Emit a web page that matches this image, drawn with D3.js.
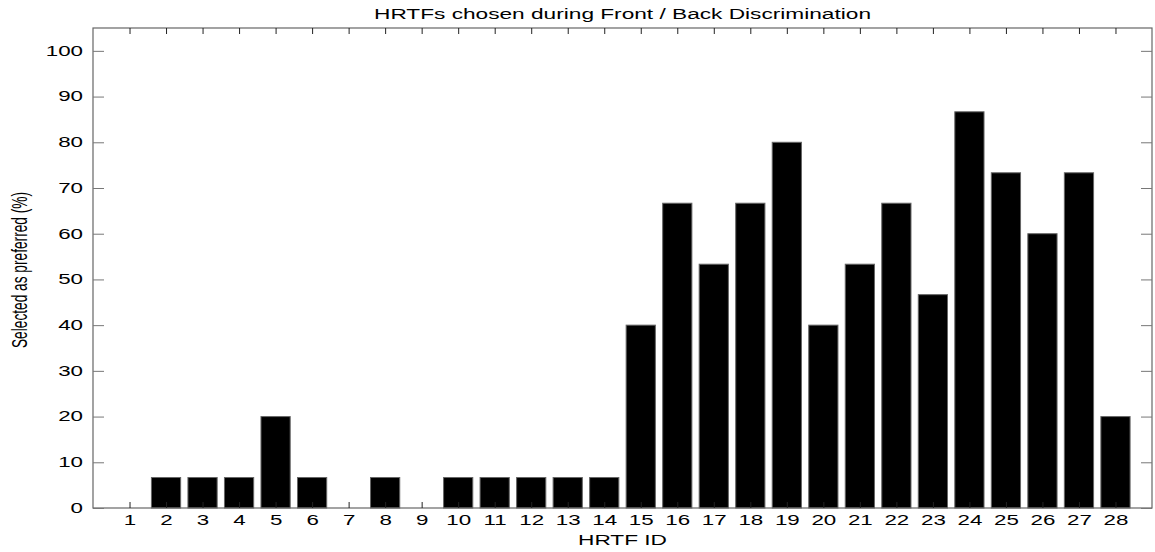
<!DOCTYPE html>
<html>
<head>
<meta charset="utf-8">
<script src="https://cdn.jsdelivr.net/npm/d3@7"></script>
<style>
  body { margin: 0; background: #fff; }
  svg { display: block; }
  text { font-family: "Liberation Sans", Arial, sans-serif; fill: #000; }
</style>
</head>
<body>
<svg id="chart" width="1155" height="552"></svg>
<script>
// HRTF identifiers 1..28 and percentage of listeners selecting each one
const hrtfIds = d3.range(1, 29);
const selectedPct = [
  0, 6.67, 6.67, 6.67, 20, 6.67, 0, 6.67, 0, 6.67,
  6.67, 6.67, 6.67, 6.67, 40, 66.67, 53.33, 66.67, 80, 40,
  53.33, 66.67, 46.67, 86.67, 73.33, 60, 73.33, 20
];
const yTicks = [0, 10, 20, 30, 40, 50, 60, 70, 80, 90, 100];

const svg = d3.select("#chart");
const plotL = 93, plotR = 1152, plotT = 28, plotB = 508;
const sx = 1.62;           // horizontal widening applied to all lettering
const fontPx = 13.8;

const x = d3.scaleLinear().domain([0, 29]).range([plotL, plotR]);
const y = d3.scaleLinear().domain([0, 105]).range([plotB, plotT]);
const barW = (x(1) - x(0)) * 0.8;
const midX = (plotL + plotR) / 2;

// bars
svg.append("g").selectAll("rect")
  .data(hrtfIds.map((id, i) => ({ id, v: selectedPct[i] })).filter(d => d.v > 0))
  .join("rect")
  .attr("x", d => x(d.id) - barW / 2)
  .attr("y", d => y(d.v))
  .attr("width", barW)
  .attr("height", d => y(0) - y(d.v))
  .attr("fill", "#000")
  .attr("stroke", "#666")
  .attr("stroke-width", 1);

// frame
svg.append("rect")
  .attr("x", plotL).attr("y", plotT)
  .attr("width", plotR - plotL).attr("height", plotB - plotT)
  .attr("fill", "none").attr("stroke", "#666").attr("stroke-width", 1.2);

// bottom axis: ticks inward, labels below
const xAxisB = d3.axisBottom(x).tickValues(hrtfIds).tickSize(-6).tickPadding(0).tickFormat(d3.format("d"));
const gxb = svg.append("g").attr("transform", `translate(0,${plotB})`).call(xAxisB);
// top axis: ticks only
const xAxisT = d3.axisTop(x).tickValues(hrtfIds).tickSize(-6).tickFormat("");
const gxt = svg.append("g").attr("transform", `translate(0,${plotT})`).call(xAxisT);
// left axis with labels
const yAxisL = d3.axisLeft(y).tickValues(yTicks).tickSize(-11).tickPadding(0).tickFormat(d3.format("d"));
const gyl = svg.append("g").attr("transform", `translate(${plotL},0)`).call(yAxisL);
// right axis ticks only
const yAxisR = d3.axisRight(y).tickValues(yTicks).tickSize(-11).tickFormat("");
const gyr = svg.append("g").attr("transform", `translate(${plotR},0)`).call(yAxisR);

[gxb, gxt, gyl, gyr].forEach(g => {
  g.select(".domain").remove();
  g.selectAll("text")
    .style("font-family", "'Liberation Sans', Arial, sans-serif")
    .style("font-size", fontPx + "px");
});
gxb.selectAll(".tick line").attr("stroke", "#222");
gxt.selectAll(".tick line").attr("stroke", "#222");
gyl.selectAll(".tick line").attr("stroke", "#777");
gyr.selectAll(".tick line").attr("stroke", "#777");

// widen tick labels horizontally
gxb.selectAll("text")
  .attr("y", 17).attr("dy", 0)
  .attr("transform", `scale(${sx},1)`);
gyl.selectAll("text")
  .attr("x", -10 / sx)
  .attr("transform", `scale(${sx},1)`);

// title
svg.append("text")
  .attr("transform", `translate(${midX},19) scale(${sx},1)`)
  .attr("text-anchor", "middle")
  .style("font-size", "14px")
  .text("HRTFs chosen during Front / Back Discrimination");

// x label
svg.append("text")
  .attr("transform", `translate(${midX},545) scale(${sx},1)`)
  .attr("text-anchor", "middle")
  .style("font-size", "14px")
  .text("HRTF ID");

// y label
svg.append("text")
  .attr("transform", `translate(27,270) scale(${sx},1) rotate(-90)`)
  .attr("text-anchor", "middle")
  .style("font-size", "13.7px")
  .text("Selected as preferred (%)");
</script>
</body>
</html>
